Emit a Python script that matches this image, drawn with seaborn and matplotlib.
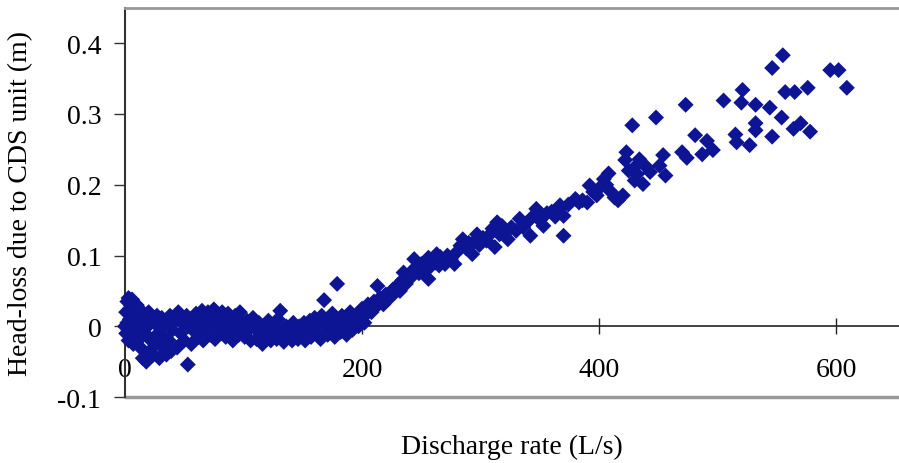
import matplotlib
matplotlib.use("Agg")
import matplotlib.pyplot as plt
import seaborn as sns
import pandas as pd

# discharge rate (L/s) and head-loss (m)
discharge = [
    0, 1, 1, 2, 2, 3, 3, 4, 4, 5, 5, 6, 6, 7, 7, 8, 9, 10, 10, 11,
    12, 13, 14, 15, 16, 17, 18, 19, 20, 21, 22, 23, 24, 25, 26, 27, 28, 29, 30,
    31, 32, 33, 34, 35, 36, 37, 38, 39, 40,
    42, 44, 45, 47, 48, 50, 52, 53, 54, 56, 57, 59, 60, 62, 63, 65, 66, 68, 69,
    70, 72, 73, 75, 76, 78, 79, 81, 82, 84, 85, 87, 88, 90, 91, 93, 94, 96, 97, 99,
    101, 103, 104, 106, 108, 109, 111, 113, 114, 116, 118, 119, 121, 123, 124,
    126, 128, 129, 131, 132, 134, 136, 137, 139, 141, 142, 144, 146, 147, 149,
    151, 152, 154, 156, 157, 159,
    160, 162, 163, 165, 166, 168, 169, 171, 172, 174, 175, 177, 179, 180, 182,
    183, 185, 187, 188, 190, 192, 193, 195, 197, 199, 200, 202, 204,
    205, 208, 210, 212, 213, 215, 218, 220, 222, 224, 226, 228, 230, 232, 234,
    235, 237, 238, 240, 242, 244, 246, 248, 250, 252, 254, 256, 256, 258, 260,
    262, 263, 265, 266, 268, 270, 272, 275, 278,
    280, 283, 285, 288, 290, 293, 295, 297, 299, 302, 305, 308, 310, 312, 314,
    316, 318, 320, 323, 326, 330, 333, 336, 338, 342, 344, 347, 350, 353, 356,
    360, 363, 366, 367, 370, 370,
    374, 380, 383, 386, 390, 392, 395, 398, 400, 404, 406, 408, 410, 413, 416,
    420, 422, 423, 425, 428, 429, 430, 432, 434, 437, 440, 443, 448, 451, 454, 456,
    470, 473, 474, 481, 487, 491, 496, 505, 515, 516, 520, 521, 527, 532, 532,
    532, 544, 546, 546, 554, 555, 557, 564, 565, 570, 576, 578, 595, 602, 609,
]
head_loss = [
    0.0, 0.02, -0.01, 0.035, 0.005, 0.04, -0.02, 0.025, 0.01, 0.03, -0.015, 0.0, 0.038, 0.015, -0.025, 0.02, -0.005, 0.03, 0.01, -0.02,
    0.025, -0.03, 0.005, -0.045, 0.015, -0.01, -0.05, 0.0, 0.02, -0.035, -0.02, 0.01, -0.04, 0.005, -0.025, 0.015, -0.01, -0.045, 0.0,
    0.012, -0.03, -0.015, 0.008, -0.04, 0.005, -0.02, 0.015, -0.035, -0.005,
    0.01, -0.03, 0.02, -0.01, 0.005, -0.02, 0.015, -0.054, 0.0, -0.025, 0.012, -0.008, 0.018, -0.015, 0.005, 0.022, -0.02, 0.01, -0.005,
    0.02, -0.012, 0.008, 0.024, -0.018, 0.0, 0.015, -0.01, 0.02, 0.005, -0.015, 0.018, -0.005, 0.01, -0.02, 0.015, 0.0, -0.012, 0.02, 0.005,
    -0.015, 0.008, -0.005, -0.02, 0.012, 0.0, -0.018, 0.005, -0.01, -0.025, 0.002, -0.012, 0.008, -0.02, -0.005,
    0.0, -0.018, 0.01, 0.022, -0.008, -0.022, 0.0, -0.015, -0.005, -0.02, 0.005, -0.01, -0.018, 0.0, -0.012,
    0.005, -0.02, -0.008, 0.008, -0.015, 0.0,
    0.012, -0.01, 0.005, -0.018, 0.015, 0.037, 0.0, -0.012, 0.01, -0.005, 0.018, -0.015, 0.06, 0.005, -0.008,
    0.015, 0.0, -0.012, 0.01, 0.02, -0.005, 0.008, 0.015, 0.0, 0.012, 0.025, 0.005, 0.018,
    0.031, 0.02, 0.035, 0.028, 0.057, 0.04, 0.031, 0.045, 0.038, 0.043, 0.052, 0.048, 0.058, 0.05, 0.065,
    0.076, 0.06, 0.07, 0.067, 0.078, 0.095, 0.082, 0.075, 0.088, 0.08, 0.092, 0.067, 0.097, 0.085, 0.094,
    0.09, 0.102, 0.086, 0.098, 0.092, 0.088, 0.1, 0.095, 0.088,
    0.105, 0.114, 0.123, 0.11, 0.118, 0.102, 0.12, 0.13, 0.115, 0.125, 0.121, 0.13, 0.138, 0.112, 0.147,
    0.13, 0.142, 0.135, 0.123, 0.14, 0.135, 0.152, 0.14, 0.145, 0.128, 0.155, 0.166, 0.15, 0.142, 0.16,
    0.162, 0.155, 0.166, 0.171, 0.156, 0.128,
    0.172, 0.18, 0.175, 0.178, 0.175, 0.199, 0.19, 0.185, 0.195, 0.208, 0.2, 0.216, 0.19, 0.182, 0.178,
    0.185, 0.235, 0.246, 0.22, 0.284, 0.223, 0.206, 0.215, 0.236, 0.201, 0.225, 0.218, 0.295, 0.227, 0.242, 0.213,
    0.246, 0.313, 0.238, 0.27, 0.243, 0.262, 0.249, 0.319, 0.271, 0.26, 0.316, 0.334, 0.256, 0.277, 0.287,
    0.313, 0.309, 0.365, 0.268, 0.295, 0.383, 0.331, 0.279, 0.331, 0.287, 0.337, 0.275, 0.362, 0.362, 0.337,
]

x_ticks = [0, 200, 400, 600]
y_ticks = [-0.1, 0, 0.1, 0.2, 0.3, 0.4]
y_tick_labels = ["-0.1", "0", "0.1", "0.2", "0.3", "0.4"]

df = pd.DataFrame({"discharge": discharge, "head_loss": head_loss})

sns.set_style("white")
plt.rcParams["font.family"] = ["Liberation Serif", "DejaVu Serif"]

fig = plt.figure(figsize=(8.99, 4.64), dpi=100)
ax = fig.add_axes([0.139, 0.142, 0.861, 0.839])

sns.scatterplot(data=df, x="discharge", y="head_loss", marker="D", s=66,
                color="#0d1594", edgecolor="none", linewidth=0,
                clip_on=False, zorder=3, ax=ax)

ax.set_xlim(0, 653)
ax.set_ylim(-0.1, 0.45)

# x axis crosses at zero, like the Excel original
ax.spines["bottom"].set_position(("data", 0))
ax.spines["bottom"].set_color("#222222")
ax.spines["bottom"].set_linewidth(1.2)
ax.spines["left"].set_color("#333333")
ax.spines["left"].set_linewidth(1.5)
ax.spines["top"].set_color("#999999")
ax.spines["top"].set_linewidth(2)
ax.spines["right"].set_visible(False)
ax.axhline(-0.1, color="#999999", lw=2.5, clip_on=False, zorder=1)

ax.set_xticks(x_ticks)
ax.set_yticks(y_ticks)
ax.set_yticklabels(y_tick_labels)
ax.tick_params(axis="x", direction="inout", length=12, width=1, pad=16,
               labelsize=20, bottom=True, color="#222222", labelcolor="black")
ax.tick_params(axis="y", direction="out", length=8, width=1, pad=9,
               labelsize=20, left=True, color="#333333", labelcolor="black")

ax.set_xlabel("Discharge rate (L/s)", fontsize=20, color="black")
ax.set_ylabel("Head-loss due to CDS unit (m)", fontsize=20, color="black")
ax.xaxis.set_label_coords(0.5, -0.095)
ax.yaxis.set_label_coords(-0.118, 0.5)

plt.savefig("out.png", dpi=100)
